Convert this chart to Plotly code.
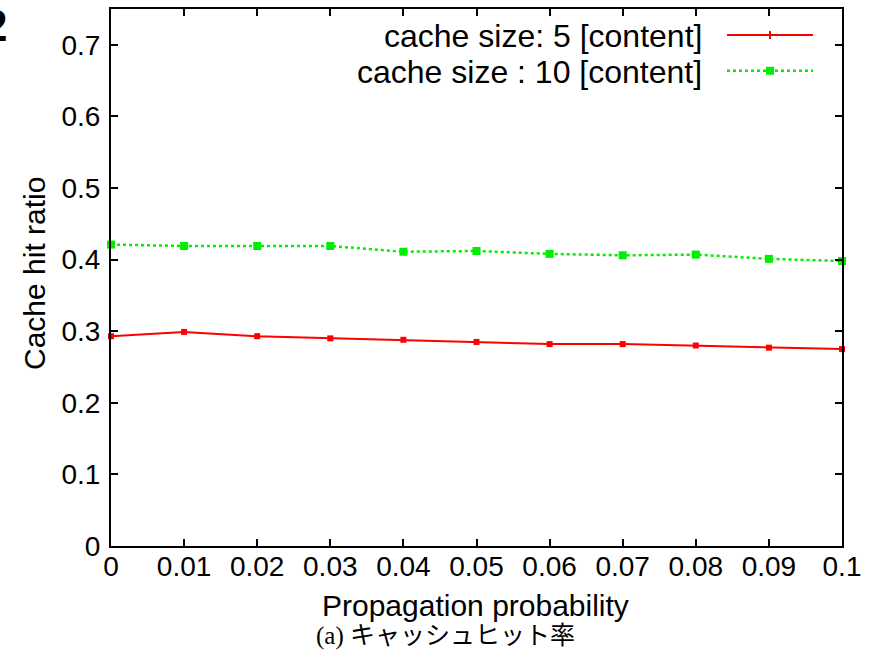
import plotly.graph_objects as go

# ---- data ----
prop_prob = [0, 0.01, 0.02, 0.03, 0.04, 0.05, 0.06, 0.07, 0.08, 0.09, 0.1]
cache5 = [0.293, 0.299, 0.293, 0.290, 0.288, 0.285, 0.282, 0.282, 0.280, 0.277, 0.275]
cache10 = [0.421, 0.419, 0.419, 0.419, 0.411, 0.412, 0.408, 0.406, 0.407, 0.401, 0.398]
series_names = ["cache size: 5 [content]", "cache size : 10 [content]"]
x_tick_vals = prop_prob
x_tick_text = ["0", "0.01", "0.02", "0.03", "0.04", "0.05", "0.06", "0.07", "0.08", "0.09", "0.1"]
y_tick_vals = [0, 0.1, 0.2, 0.3, 0.4, 0.5, 0.6, 0.7]
y_tick_text = ["0", "0.1", "0.2", "0.3", "0.4", "0.5", "0.6", "0.7"]

W, H = 879, 657
L, R, T, B = 111, 37, 7, 111
pw, ph = W - L - R, H - T - B

def px(xp):
    return (xp - L) / pw

def py(yp):
    return (H - B - yp) / ph

SANS = "Liberation Sans, Arial, sans-serif"
RED = "#ff0000"
GREEN = "#00ee00"

fig = go.Figure()
fig.add_trace(go.Scatter(
    x=prop_prob, y=cache5, mode="lines+markers", name=series_names[0],
    line=dict(color=RED, width=2),
    marker=dict(symbol="square", size=6, color=RED),
    showlegend=False, cliponaxis=False,
))
fig.add_trace(go.Scatter(
    x=prop_prob, y=cache10, mode="lines+markers", name=series_names[1],
    line=dict(color=GREEN, width=2.5, dash="dot"),
    marker=dict(symbol="square", size=8, color=GREEN),
    showlegend=False, cliponaxis=False,
))

axis_common = dict(
    showline=True, linecolor="black", linewidth=2, mirror="allticks",
    ticks="inside", ticklen=7, tickwidth=1.5, tickcolor="black",
    showgrid=False, zeroline=False,
    tickfont=dict(family=SANS, size=28, color="black"),
)
fig.update_xaxes(range=[0, 0.1], tickvals=x_tick_vals, ticktext=x_tick_text,
                 ticklabelstandoff=-6, **axis_common)
fig.update_yaxes(range=[0, 0.75], tickvals=y_tick_vals, ticktext=y_tick_text,
                 ticklabelstandoff=3, **axis_common)

def ann(text, x, y, size, family=SANS, xanchor="center", angle=0):
    return dict(text=text, x=px(x), y=py(y), xref="paper", yref="paper",
                xanchor=xanchor, yanchor="middle", showarrow=False,
                textangle=angle, font=dict(family=family, size=size, color="black"))

annotations = [
    ann("Cache hit ratio", 34, 273, 30, angle=-90),
    ann("Propagation probability", 475, 606, 30),
    ann("(a) キャッシュヒット率", 445, 636, 25,
        family="Liberation Serif, Noto Sans CJK JP, serif"),
    ann(series_names[0], 704, 34, 32, xanchor="right"),
    ann(series_names[1], 704, 70, 32, xanchor="right"),
    ann("<b>2</b>", 9, 24, 44, xanchor="right"),
]

shapes = [
    dict(type="line", xref="paper", yref="paper", x0=px(727), x1=px(813),
         y0=py(33), y1=py(33), line=dict(color=RED, width=2)),
    dict(type="line", xref="paper", yref="paper", x0=px(770), x1=px(770),
         y0=py(29), y1=py(37), line=dict(color=RED, width=2)),
    dict(type="line", xref="paper", yref="paper", x0=px(727), x1=px(813),
         y0=py(69), y1=py(69), line=dict(color=GREEN, width=2.5, dash="dot")),
    dict(type="rect", xref="paper", yref="paper", x0=px(766), x1=px(774),
         y0=py(65), y1=py(73), line=dict(width=0), fillcolor=GREEN),
]

fig.update_layout(
    width=W, height=H,
    margin=dict(l=L, r=R, t=T, b=B),
    paper_bgcolor="white", plot_bgcolor="white",
    annotations=annotations, shapes=shapes,
    showlegend=False,
)

fig.write_html("out.html")
